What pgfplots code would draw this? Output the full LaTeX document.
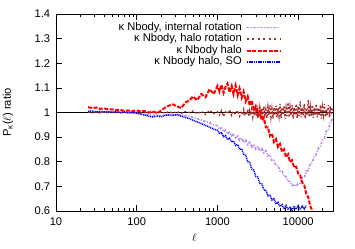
\documentclass[border=0pt]{standalone}
\usepackage{pgfplots}
\pgfplotsset{compat=1.18}
\usepackage{fontspec}
\setmainfont{Liberation Sans}
\definecolor{cpurple}{RGB}{182,132,244}
\definecolor{cbrown}{RGB}{165,42,42}
\begin{document}
\fontsize{11.2}{13}\selectfont
\begin{tikzpicture}
\begin{axis}[name=ax,
  scale only axis, width=277bp, height=197bp,
  xmode=log, xmin=10, xmax=27000, ymin=0.6, ymax=1.4,
  axis line style={line width=0.9bp},
  tick align=inside, major tick length=6bp, minor tick length=3bp,
  tick style={black, line width=0.7bp},
  xtick={10,100,1000,10000}, xticklabels={10,100,1000,10000},
  minor xtick={20,30,40,50,60,70,80,90,200,300,400,500,600,700,800,900,2000,3000,4000,5000,6000,7000,8000,9000,20000},
  ytick={0.6,0.7,0.8,0.9,1,1.1,1.2,1.3,1.4},
  yticklabels={0.6,0.7,0.8,0.9,1,1.1,1.2,1.3,1.4},
  xticklabel style={yshift=-3bp},
  yticklabel style={xshift=-2bp},
  every axis y label/.style={at={(axis description cs:0,0.5)}, xshift=-48bp, rotate=90, anchor=center},
  every axis x label/.style={at={(axis description cs:0.5,0)}, yshift=-27bp, anchor=center},
  ylabel={P\textsubscript{κ}($\ell$) ratio},
  xlabel={$\ell$},
  legend cell align=right, legend plot pos=right,
  legend style={draw=none, fill=none, inner sep=0pt, row sep=0pt, at={(rel axis cs:0.816,0.962)}, anchor=north east,
    nodes={inner sep=0bp, text height=8.5bp, text depth=3.1bp}, column sep=4bp},
  legend image code/.code={\draw[#1] (0bp,0bp) -- (34bp,0bp);},
]
\addplot[black, line width=1.5bp, forget plot] coordinates {(10,1) (27000,1)};
% internal rotation
\addplot[cpurple, line width=1.6bp, dash pattern=on 2.5bp off 1.5bp on 1bp off 1.5bp, forget plot] table[row sep=\\] {
x y\\
25 1.003\\ 28 1.005\\ 32 1.002\\ 35 1.004\\ 40 1.001\\ 45 1.003\\ 50 1.0\\ 56 1.002\\ 63 0.999\\ 70 1.001\\
80 0.998\\ 90 0.999\\ 100 0.998\\ 112 0.995\\ 125 0.993\\ 140 0.99\\ 160 0.988\\ 180 0.99\\ 200 0.987\\ 225 0.99\\
250 0.992\\ 280 0.99\\ 315 0.993\\ 355 0.99\\ 400 0.988\\ 450 0.984\\ 500 0.98\\ 560 0.975\\ 630 0.97\\ 710 0.963\\
800 0.958\\ 900 0.95\\ 1000 0.945\\ 1060 0.932\\ 1120 0.937\\ 1190 0.922\\ 1260 0.928\\ 1330 0.913\\ 1410 0.92\\ 1500 0.905\\
1580 0.914\\ 1680 0.897\\ 1780 0.905\\ 1880 0.887\\ 2000 0.896\\ 2110 0.879\\ 2240 0.888\\ 2370 0.87\\ 2510 0.879\\ 2660 0.86\\
2820 0.871\\ 2980 0.852\\ 3160 0.862\\ 3350 0.844\\ 3550 0.853\\ 3760 0.836\\ 3980 0.845\\ 4220 0.824\\ 4470 0.828\\ 4730 0.805\\
5010 0.806\\ 5310 0.784\\ 5620 0.784\\ 5960 0.762\\ 6310 0.762\\ 6680 0.74\\ 7080 0.74\\ 7500 0.72\\ 7940 0.72\\ 8410 0.703\\
8910 0.708\\ 9440 0.7\\ 10000 0.712\\ 10590 0.712\\ 11220 0.735\\ 11890 0.735\\ 12590 0.762\\ 13340 0.765\\ 14130 0.792\\ 14960 0.797\\
15850 0.822\\ 16790 0.83\\ 17780 0.855\\ 18840 0.862\\ 19950 0.888\\ 21130 0.895\\ 22390 0.925\\ 23710 0.93\\ 25120 0.962\\ 26610 0.975\\
};
% halo rotation
\addplot[cbrown, line width=1.4bp, dash pattern=on 1.8bp off 2bp, forget plot] table[row sep=\\] {
x y\\
25 1.002\\ 28 0.999\\ 32 1.002\\ 35 0.999\\ 40 1.002\\ 45 0.999\\ 50 1.002\\ 56 0.999\\ 63 1.002\\ 70 0.999\\
80 1.002\\ 90 0.999\\ 100 1.002\\ 112 0.999\\ 125 1.002\\ 140 0.999\\ 160 1.002\\ 180 0.999\\ 200 1.002\\ 225 0.998\\
250 1.003\\ 280 0.998\\ 315 1.003\\ 355 0.997\\ 400 1.004\\ 450 1.0\\ 500 1.006\\ 560 0.995\\ 630 1.004\\ 710 0.992\\
800 1.008\\ 900 0.996\\ 1000 1.003\\ 1060 0.99\\ 1120 1.007\\ 1190 0.985\\ 1260 1.002\\ 1330 0.995\\ 1410 1.01\\ 1500 0.988\\
1580 1.004\\ 1680 0.993\\ 1780 1.008\\ 1880 0.985\\
2000 1.006\\ 2055 0.99\\ 2110 1.01\\ 2175 0.986\\ 2240 1.004\\ 2300 0.992\\ 2370 1.012\\ 2440 0.984\\ 2510 1.008\\ 2585 0.99\\
2660 1.014\\ 2740 0.982\\ 2820 1.01\\ 2900 0.988\\ 2980 1.018\\ 3070 0.985\\ 3160 1.012\\ 3255 0.978\\ 3350 1.02\\ 3450 0.99\\
3550 1.015\\ 3655 0.982\\ 3760 1.025\\ 3870 0.985\\ 3980 1.012\\ 4100 0.978\\ 4220 1.022\\ 4345 0.99\\ 4470 1.03\\ 4600 0.982\\
4730 1.015\\ 4870 0.975\\ 5010 1.02\\ 5160 0.99\\ 5310 1.028\\ 5465 0.98\\ 5620 1.018\\ 5790 0.985\\ 5960 1.035\\ 6135 0.978\\
6310 1.02\\ 6495 0.99\\ 6680 1.025\\ 6880 0.975\\ 7080 1.018\\ 7290 0.985\\ 7500 1.04\\ 7720 0.98\\ 7940 1.022\\ 8175 0.988\\
8410 1.03\\ 8660 0.975\\ 8910 1.02\\ 9170 0.99\\ 9440 1.035\\ 9715 0.978\\ 10000 1.025\\ 10295 0.985\\ 10590 1.045\\ 10900 0.98\\
11220 1.02\\ 11550 0.988\\ 11890 1.035\\ 12240 0.975\\ 12590 1.018\\ 12960 0.99\\ 13340 1.05\\ 13730 0.982\\ 14130 1.022\\ 14540 0.985\\
14960 1.03\\ 15400 0.978\\ 15850 1.02\\ 16310 0.99\\ 16790 1.035\\ 17280 0.98\\ 17780 1.018\\ 18300 0.988\\ 18840 1.03\\ 19390 0.975\\
19950 1.022\\ 20530 0.99\\ 21130 1.035\\ 21750 0.982\\ 22390 1.015\\ 23040 0.988\\ 23710 1.03\\ 24400 0.98\\ 25120 1.025\\ 25850 0.99\\
26610 1.02\\
};
% halo
\addplot[red, line width=2bp, dash pattern=on 4bp off 1.5bp, forget plot] table[row sep=\\] {
x y\\
25 1.022\\ 28 1.018\\ 32 1.02\\ 35 1.015\\ 40 1.016\\ 45 1.012\\ 50 1.013\\ 56 1.009\\ 63 1.01\\ 70 1.007\\
80 1.008\\ 90 1.006\\ 100 1.009\\ 112 1.004\\ 125 1.006\\ 140 1.0\\ 160 1.003\\ 180 0.998\\ 200 1.008\\ 225 1.02\\
250 1.028\\ 280 1.033\\ 315 1.025\\ 355 1.018\\ 400 1.04\\ 450 1.05\\ 500 1.065\\ 560 1.05\\ 630 1.075\\ 710 1.062\\
800 1.095\\ 900 1.075\\ 1000 1.108\\ 1060 1.085\\ 1120 1.112\\ 1190 1.08\\ 1260 1.105\\ 1330 1.118\\ 1410 1.082\\ 1500 1.108\\
1580 1.075\\ 1680 1.11\\ 1780 1.07\\ 1880 1.098\\ 2000 1.06\\ 2110 1.085\\ 2240 1.045\\ 2370 1.065\\ 2510 1.028\\ 2660 1.05\\
2820 1.008\\ 2980 1.025\\ 3160 0.988\\ 3350 1.005\\ 3550 0.968\\ 3760 0.98\\ 3980 0.94\\ 4220 0.94\\ 4470 0.905\\ 4730 0.915\\
5010 0.88\\ 5310 0.892\\ 5620 0.86\\ 5960 0.872\\ 6310 0.84\\ 6680 0.85\\ 7080 0.818\\ 7500 0.83\\ 7940 0.798\\ 8410 0.806\\
8910 0.776\\ 9440 0.78\\ 10000 0.752\\ 10590 0.745\\ 11220 0.715\\ 11890 0.705\\ 12590 0.67\\ 13340 0.655\\ 14130 0.62\\ 14960 0.602\\
15850 0.575\\
};
% halo SO
\addplot[blue, line width=1.5bp, dash pattern=on 1bp off 0.8bp, forget plot] table[row sep=\\] {
x y\\
25 1.004\\ 28 1.006\\ 32 1.003\\ 35 1.005\\ 40 1.002\\ 45 1.004\\ 50 1.001\\ 56 1.003\\ 63 1.0\\ 70 1.002\\
80 0.999\\ 90 1.0\\ 100 0.997\\ 112 0.993\\ 125 0.99\\ 140 0.985\\ 160 0.982\\ 180 0.985\\ 200 0.983\\ 225 0.988\\
250 0.99\\ 280 0.988\\ 315 0.991\\ 355 0.985\\ 400 0.98\\ 450 0.975\\ 500 0.968\\ 560 0.962\\ 630 0.955\\ 710 0.948\\
800 0.94\\ 900 0.932\\ 1000 0.928\\ 1060 0.915\\ 1120 0.918\\ 1190 0.902\\ 1260 0.906\\ 1330 0.89\\ 1410 0.896\\ 1500 0.88\\
1580 0.884\\ 1680 0.866\\ 1780 0.87\\ 1880 0.85\\ 2000 0.852\\ 2110 0.83\\ 2240 0.826\\ 2370 0.8\\ 2510 0.798\\ 2660 0.77\\
2820 0.766\\ 2980 0.74\\ 3160 0.738\\ 3350 0.712\\ 3550 0.71\\ 3760 0.686\\ 3980 0.684\\ 4220 0.662\\ 4470 0.664\\ 4730 0.645\\
5010 0.65\\ 5310 0.628\\ 5620 0.635\\ 5960 0.618\\ 6310 0.626\\ 6680 0.608\\ 7080 0.622\\ 7500 0.605\\ 7940 0.618\\ 8410 0.603\\
8910 0.62\\ 9440 0.607\\ 10000 0.622\\ 10590 0.605\\ 11220 0.62\\ 11890 0.608\\ 12590 0.622\\
};
\addlegendimage{color=cpurple, line width=1.8bp, line cap=round, dash pattern=on 1.6bp off 2.6bp on 0.01bp off 2.6bp}
\addlegendentry{κ Nbody, internal rotation}
\addlegendimage{color=cbrown, line width=1.6bp, dash pattern=on 2bp off 3.5bp}
\addlegendentry{κ Nbody, halo rotation}
\addlegendimage{color=red, line width=2bp, dash pattern=on 4bp off 1.5bp}
\addlegendentry{κ Nbody halo}
\addlegendimage{color=blue, line width=2bp, dash pattern=on 1.2bp off 0.6bp}
\addlegendentry{κ Nbody halo, SO}
\end{axis}
\pgfresetboundingbox
\path ([shift={(-56bp,-38bp)}]ax.south west) rectangle ([shift={(22bp,14bp)}]ax.north east);
\end{tikzpicture}
\end{document}
